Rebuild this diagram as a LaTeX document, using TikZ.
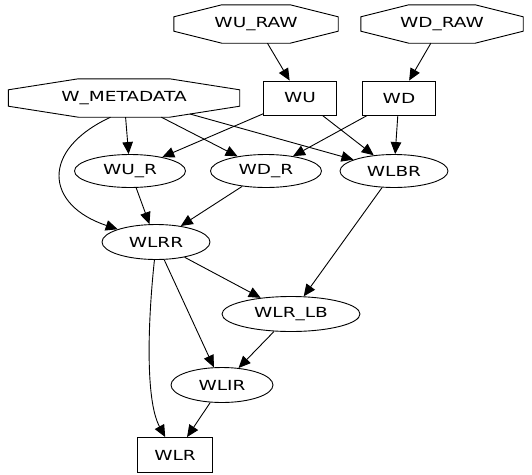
\documentclass[tikz,border=0pt]{standalone}
\usepackage{fontspec}
\newfontfamily\gvfont[FakeStretch=1.33]{DejaVu Sans}
\usetikzlibrary{arrows.meta,calc,shapes.geometric}
\tikzset{
  base/.style={font=\gvfont\fontsize{13.9}{16}\selectfont, inner sep=0pt},
  ell/.style={base, draw, ellipse, line width=0.9pt},
  boxn/.style={base, draw, rectangle, line width=0.9pt},
  oct/.style={base, rectangle},
  arr/.style={-{Triangle[length=12pt,width=10.5pt]}, line width=0.9pt}
}
\newcommand\octo[3]{\draw[line width=0.9pt]
  ($(#1.north west)+(#2pt,0pt)$) -- ($(#1.north east)+(-#2pt,0pt)$) --
  ($(#1.north east)+(0pt,-#3pt)$) -- ($(#1.south east)+(0pt,#3pt)$) --
  ($(#1.south east)+(-#2pt,0pt)$) -- ($(#1.south west)+(#2pt,0pt)$) --
  ($(#1.south west)+(0pt,#3pt)$) -- ($(#1.north west)+(0pt,-#3pt)$) -- cycle;}
\begin{document}
\begin{tikzpicture}[x=1pt,y=-1pt]
\useasboundingbox (0,0) rectangle (532,474);
% octagons
\node[oct, minimum width=164pt, minimum height=38pt] (wuraw) at (256,24) {WU\_RAW};
\node[oct, minimum width=162pt, minimum height=38pt] (wdraw) at (442,24) {WD\_RAW};
\node[oct, minimum width=231pt, minimum height=38pt] (wmeta) at (124,98) {W\_METADATA};
\octo{wuraw}{48}{12}
\octo{wdraw}{48}{12}
\octo{wmeta}{70}{11}
\coordinate (wmetar) at ($(wmeta.center)+(66pt,-16pt)$);
% boxes
\node[boxn, minimum width=73pt, minimum height=34pt] (wu) at (300,98) {WU};
\node[boxn, minimum width=73pt, minimum height=34pt] (wd) at (399,98) {WD};
\node[boxn, minimum width=75pt, minimum height=35pt] (wlr) at (175,455) {WLR};
% ellipses
\node[ell, minimum width=111pt, minimum height=33pt] (wur) at (130,171) {WU\_R};
\node[ell, minimum width=111pt, minimum height=33pt] (wdr) at (266,171) {WD\_R};
\node[ell, minimum width=108pt, minimum height=33pt] (wlbr) at (394,171) {WLBR};
\node[ell, minimum width=108pt, minimum height=35pt] (wlrr) at (156,242) {WLRR};
\node[ell, minimum width=138pt, minimum height=35pt] (wlrlb) at (291,314) {WLR\_LB};
\node[ell, minimum width=102pt, minimum height=35pt] (wlir) at (222,385) {WLIR};
% edges
\draw[arr] (wuraw) -- (wu);
\draw[arr] (wdraw) -- (wd);
\draw[arr] (wmeta) -- (wur);
\draw[arr] (wmeta) -- (wdr);
\draw[arr] (wmetar) -- (wlbr);
\draw[arr] (wmeta.235) .. controls (40,150) and (45,205) .. (wlrr);
\draw[arr] (wu) -- (wur);
\draw[arr] (wu) -- (wlbr);
\draw[arr] (wd) -- (wdr);
\draw[arr] (wd) -- (wlbr);
\draw[arr] (wur) -- (wlrr);
\draw[arr] (wdr) -- (wlrr);
\draw[arr] (wlbr) -- (wlrlb);
\draw[arr] (wlrr) -- (wlrlb);
\draw[arr] (wlrr) -- (wlir);
\draw[arr] (wlrlb) -- (wlir);
\draw[arr] (wlrr.265) .. controls (148,320) and (145,400) .. (wlr);
\draw[arr] (wlir) -- (wlr);
\end{tikzpicture}
\end{document}
